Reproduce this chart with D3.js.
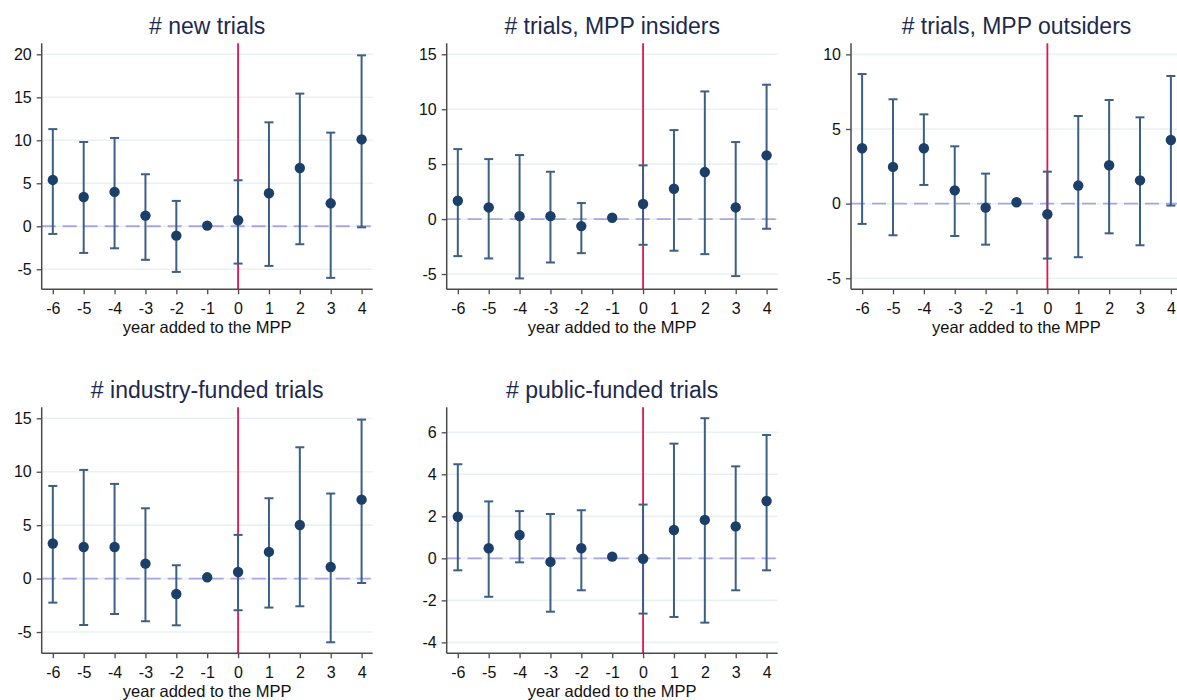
<!DOCTYPE html>
<html>
<head>
<meta charset="utf-8">
<script src="https://cdn.jsdelivr.net/npm/d3@7"></script>
<style>
  html, body { margin: 0; padding: 0; background: #ffffff; }
  svg { display: block; font-family: "Liberation Sans", Arial, Helvetica, sans-serif; }
</style>
</head>
<body>
<svg id="chart" width="1177" height="700"></svg>
<script>
// Event-study coefficients with 95% confidence intervals, by year relative to MPP entry
const years = [-6, -5, -4, -3, -2, -1, 0, 1, 2, 3, 4];

const titles = [
  "# new trials",
  "# trials, MPP insiders",
  "# trials, MPP outsiders",
  "# industry-funded trials",
  "# public-funded trials"
];

const newTrialsEst   = [5.39, 3.41, 4.00, 1.24, -1.09, 0.08, 0.70, 3.84, 6.78, 2.67, 10.10];
const newTrialsLo    = [-0.89, -3.10, -2.56, -3.90, -5.31, null, -4.34, -4.61, -2.09, -6.00, -0.12];
const newTrialsHi    = [11.30, 9.80, 10.27, 6.05, 2.95, null, 5.35, 12.09, 15.43, 10.89, 19.88];

const insidersEst    = [1.67, 1.06, 0.27, 0.27, -0.64, 0.12, 1.37, 2.76, 4.28, 1.06, 5.80];
const insidersLo     = [-3.37, -3.58, -5.40, -3.95, -3.10, null, -2.34, -2.88, -3.19, -5.19, -0.88];
const insidersHi     = [6.37, 5.46, 5.83, 4.31, 1.46, null, 4.89, 8.10, 11.62, 7.01, 12.23];

const outsidersEst   = [3.71, 2.46, 3.71, 0.89, -0.27, 0.09, -0.71, 1.21, 2.57, 1.56, 4.26];
const outsidersLo    = [-1.36, -2.12, 1.25, -2.17, -2.75, null, -3.68, -3.59, -1.99, -2.79, -0.13];
const outsidersHi    = [8.68, 6.99, 5.98, 3.84, 2.01, null, 2.14, 5.87, 6.94, 5.78, 8.55];

const industryEst    = [3.28, 2.96, 2.96, 1.40, -1.44, 0.12, 0.62, 2.50, 5.02, 1.09, 7.39];
const industryLo     = [-2.25, -4.34, -3.31, -3.99, -4.37, null, -2.96, -2.71, -2.59, -5.96, -0.41];
const industryHi     = [8.67, 10.17, 8.86, 6.58, 1.25, null, 4.09, 7.52, 12.29, 7.96, 14.88];

const publicEst      = [1.98, 0.48, 1.11, -0.17, 0.48, 0.08, -0.02, 1.35, 1.83, 1.52, 2.73];
const publicLo       = [-0.57, -1.83, -0.19, -2.54, -1.52, null, -2.63, -2.79, -3.06, -1.52, -0.57];
const publicHi       = [4.48, 2.71, 2.25, 2.11, 2.29, null, 2.56, 5.46, 6.67, 4.38, 5.87];

const yTicks1 = [-5, 0, 5, 10, 15, 20];
const yTicks2 = [-5, 0, 5, 10, 15];
const yTicks3 = [-5, 0, 5, 10];
const yTicks4 = [-5, 0, 5, 10, 15];
const yTicks5 = [-4, -2, 0, 2, 4, 6];

const xLabel = "year added to the MPP";

// Panel layout: plot-area pixel boxes and value extents
const panels = [
  { title: titles[0], est: newTrialsEst, lo: newTrialsLo, hi: newTrialsHi, ticks: yTicks1,
    x0: 41.7, x1: 372.7, y0: 43.3, y1: 289.3, yMin: -7.33, yMax: 21.28 },
  { title: titles[1], est: insidersEst, lo: insidersLo, hi: insidersHi, ticks: yTicks2,
    x0: 446.7, x1: 777.7, y0: 43.3, y1: 289.3, yMin: -6.39, yMax: 16.0 },
  { title: titles[2], est: outsidersEst, lo: outsidersLo, hi: outsidersHi, ticks: yTicks3,
    x0: 851, x1: 1182, y0: 43.3, y1: 289.3, yMin: -5.74, yMax: 10.74 },
  { title: titles[3], est: industryEst, lo: industryLo, hi: industryHi, ticks: yTicks4,
    x0: 41.7, x1: 372.7, y0: 407.3, y1: 653.3, yMin: -6.99, yMax: 16.03 },
  { title: titles[4], est: publicEst, lo: publicLo, hi: publicHi, ticks: yTicks5,
    x0: 446.7, x1: 777.7, y0: 407.3, y1: 653.3, yMin: -4.52, yMax: 7.19 }
];

const svg = d3.select("#chart");

const COL = {
  grid: "#eaf1f4",
  zero: "#a9a6e2",
  event: "#e3154d",
  bar: "#3c5f86",
  dot: "#1b3f68",
  axis: "#4a4a4a",
  title: "#1c2a4e",
  text: "#111111"
};

// plain hyphen-minus labels
const fmt = d => String(d);

panels.forEach(p => {
  const g = svg.append("g");
  const x = d3.scaleLinear().domain([-6.36, 4.36]).range([p.x0, p.x1]);
  const y = d3.scaleLinear().domain([p.yMin, p.yMax]).range([p.y1, p.y0]);

  const rows = years.map((yr, i) => ({ yr, est: p.est[i], lo: p.lo[i], hi: p.hi[i] }));

  // horizontal gridlines
  g.selectAll(".grid").data(p.ticks).join("line")
    .attr("x1", p.x0).attr("x2", p.x1)
    .attr("y1", d => y(d)).attr("y2", d => y(d))
    .attr("stroke", COL.grid).attr("stroke-width", 1.6);

  // zero reference line
  g.append("line")
    .attr("x1", p.x0).attr("x2", p.x1)
    .attr("y1", y(0)).attr("y2", y(0))
    .attr("stroke", COL.zero).attr("stroke-width", 1.8)
    .attr("stroke-dasharray", "14,7");

  // event-year marker
  g.append("line")
    .attr("x1", x(0)).attr("x2", x(0))
    .attr("y1", p.y0).attr("y2", p.y1)
    .attr("stroke", COL.event).attr("stroke-width", 1.8);

  // confidence intervals
  const ci = rows.filter(d => d.lo !== null);
  g.selectAll(".ci").data(ci).join("line")
    .attr("x1", d => x(d.yr)).attr("x2", d => x(d.yr))
    .attr("y1", d => y(d.lo)).attr("y2", d => y(d.hi))
    .attr("stroke", COL.bar).attr("stroke-width", 2);
  g.selectAll(".capHi").data(ci).join("line")
    .attr("x1", d => x(d.yr) - 4.5).attr("x2", d => x(d.yr) + 4.5)
    .attr("y1", d => y(d.hi)).attr("y2", d => y(d.hi))
    .attr("stroke", COL.bar).attr("stroke-width", 2);
  g.selectAll(".capLo").data(ci).join("line")
    .attr("x1", d => x(d.yr) - 4.5).attr("x2", d => x(d.yr) + 4.5)
    .attr("y1", d => y(d.lo)).attr("y2", d => y(d.lo))
    .attr("stroke", COL.bar).attr("stroke-width", 2);

  // point estimates
  g.selectAll(".pt").data(rows).join("circle")
    .attr("cx", d => x(d.yr)).attr("cy", d => y(d.est))
    .attr("r", 5.2).attr("fill", COL.dot);

  // axes
  const yAxis = d3.axisLeft(y).tickValues(p.ticks).tickSize(5).tickPadding(5).tickFormat(fmt);
  const xAxis = d3.axisBottom(x).tickValues(years).tickSize(5).tickPadding(8).tickFormat(fmt);

  const ya = g.append("g").attr("transform", `translate(${p.x0},0)`).call(yAxis);
  const xa = g.append("g").attr("transform", `translate(0,${p.y1})`).call(xAxis);
  [ya, xa].forEach(a => {
    a.select(".domain").remove();
    a.selectAll(".tick line").attr("stroke", COL.axis).attr("stroke-width", 1.3);
    a.selectAll(".tick text").attr("fill", COL.text)
      .style("font-size", "16px").style("font-family", "'Liberation Sans', Arial, sans-serif");
  });
  g.append("line").attr("x1", p.x0).attr("x2", p.x0).attr("y1", p.y0).attr("y2", p.y1)
    .attr("stroke", COL.axis).attr("stroke-width", 1.5);
  g.append("line").attr("x1", p.x0).attr("x2", p.x1).attr("y1", p.y1).attr("y2", p.y1)
    .attr("stroke", COL.axis).attr("stroke-width", 1.5);

  // titles
  g.append("text")
    .attr("x", (p.x0 + p.x1) / 2).attr("y", p.y0 - 9)
    .attr("text-anchor", "middle").attr("fill", COL.title)
    .style("font-size", "23px").text(p.title);

  g.append("text")
    .attr("x", (p.x0 + p.x1) / 2).attr("y", p.y1 + 43.2)
    .attr("text-anchor", "middle").attr("fill", COL.text)
    .style("font-size", "16.5px").text(xLabel);
});
</script>
</body>
</html>
